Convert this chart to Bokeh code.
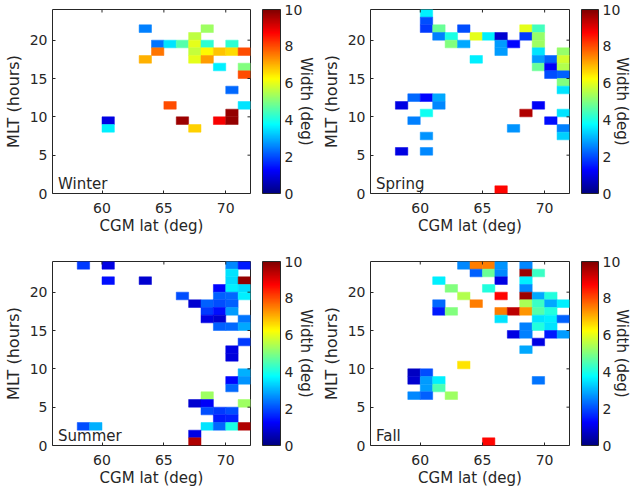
import numpy as np
from bokeh.plotting import figure
from bokeh.models import (FixedTicker, LinearColorMapper, Range1d,
                          ColumnDataSource)
from bokeh.core.properties import value
from bokeh.transform import linear_cmap, dodge
from bokeh.layouts import row, column
from bokeh.embed import file_html
from bokeh.resources import INLINE

# ---------------------------------------------------------------------------
# Width (deg) per 1-deg CGM latitude bin x 1-hour MLT bin, one set per season.
# lat / mlt give the lower edge of each bin.
# ---------------------------------------------------------------------------
winter_lat = [63, 68, 67, 64, 65, 66, 67, 68, 70, 64, 67, 68, 69, 70, 71, 63,
              67, 68, 69, 71, 71, 70, 65, 71, 70, 60, 66, 69, 70, 60, 67]
winter_mlt = [21, 21, 20, 19, 19, 19, 19, 19, 19, 18, 18, 18, 18, 18, 18, 17,
              17, 17, 16, 16, 15, 13, 11, 11, 10, 9, 9, 9, 9, 8, 8]
winter_width = [2.5, 5.3, 5.6, 2.4, 3.5, 4.6, 6.0, 4.2, 4.2, 7.6, 5.7, 6.3,
                6.8, 6.6, 8.0, 7.0, 6.0, 7.2, 3.6, 5.0, 8.0, 2.3, 8.0, 3.5,
                9.8, 1.0, 9.7, 8.8, 9.8, 3.6, 6.7]

spring_lat = [60, 60, 60, 61, 63, 68, 69, 61, 62, 64, 65, 66, 68, 69, 62, 63,
              66, 67, 69, 66, 69, 71, 64, 69, 70, 71, 69, 70, 71, 70, 71, 71,
              71, 59, 60, 61, 58, 61, 69, 60, 68, 71, 59, 70, 67, 71, 60, 71,
              58, 60, 66]
spring_mlt = [23, 22, 21, 21, 21, 21, 21, 20, 20, 20, 20, 20, 20, 20, 19, 19,
              19, 19, 19, 18, 18, 18, 17, 17, 17, 17, 16, 16, 16, 15, 15, 14,
              13, 12, 12, 12, 11, 11, 11, 10, 10, 10, 9, 9, 8, 8, 7, 7,
              5, 5, 0]
spring_width = [3.6, 2.0, 1.8, 4.8, 2.0, 6.0, 4.4, 2.5, 4.0, 6.0, 3.6, 0.8,
                1.8, 5.2, 5.0, 2.9, 2.8, 1.3, 5.3, 2.8, 3.5, 5.2, 3.6, 2.8,
                2.2, 5.8, 4.8, 1.2, 5.5, 2.0, 2.2, 5.0, 3.5, 2.3, 1.3, 2.9,
                1.0, 2.6, 1.2, 3.9, 9.5, 3.5, 2.5, 1.4, 2.7, 2.5, 2.7, 3.3,
                1.0, 2.6, 8.7]

summer_lat = [58, 60, 70, 71, 70, 60, 63, 70, 71, 69, 70, 71, 66, 69, 70, 71,
              67, 68, 69, 70, 68, 69, 70, 68, 69, 71, 69, 70, 71, 71, 70, 70,
              71, 70, 71, 70, 68, 67, 68, 71, 68, 69, 70, 69, 70, 58, 59, 68,
              69, 70, 71, 67, 67]
summer_mlt = [23, 23, 23, 23, 22, 21, 21, 21, 21, 20, 20, 20, 19, 19, 19, 19,
              18, 18, 18, 18, 17, 17, 17, 16, 16, 16, 15, 15, 15, 13, 12, 11,
              9, 8, 8, 7, 6, 5, 5, 5, 4, 4, 4, 3, 3, 2, 2, 2,
              2, 2, 2, 1, 0]
summer_width = [1.8, 1.0, 2.6, 1.5, 3.5, 1.4, 0.8, 3.4, 9.8, 1.3, 3.6, 3.4,
                2.0, 2.2, 2.3, 3.6, 0.8, 2.2, 2.0, 2.2, 1.8, 1.4, 2.8, 1.0,
                0.8, 2.4, 2.2, 2.3, 2.9, 1.8, 1.0, 0.9, 3.0, 1.3, 2.7, 2.3,
                5.3, 0.8, 1.2, 5.3, 2.0, 1.8, 2.0, 1.5, 1.6, 2.0, 3.0, 3.5,
                2.3, 4.0, 9.5, 1.0, 9.5]

fall_lat = [63, 64, 65, 66, 68, 64, 65, 66, 68, 69, 61, 66, 68, 62, 65, 68,
            63, 66, 68, 69, 70, 61, 64, 68, 69, 70, 71, 61, 62, 66, 67, 68,
            69, 70, 66, 69, 70, 71, 68, 69, 70, 67, 68, 70, 71, 69, 68, 63,
            59, 60, 59, 60, 61, 69, 60, 61, 59, 60, 62, 65]
fall_mlt = [23, 23, 23, 23, 23, 22, 22, 22, 22, 22, 21, 21, 21, 20, 20, 20,
            19, 19, 19, 19, 19, 18, 18, 18, 18, 18, 18, 17, 17, 17, 17, 17,
            17, 17, 16, 16, 16, 16, 15, 15, 15, 14, 14, 14, 14, 13, 12, 10,
            9, 9, 8, 8, 8, 8, 7, 7, 6, 6, 6, 0]
fall_width = [2.6, 7.5, 7.5, 2.7, 2.6, 2.2, 4.8, 2.6, 9.7, 4.3, 3.6, 1.0,
              3.6, 5.0, 4.1, 2.6, 5.5, 8.7, 9.7, 2.9, 4.1, 2.3, 7.5, 5.4,
              4.3, 2.9, 3.6, 1.5, 5.0, 7.5, 9.4, 7.3, 4.6, 4.1, 3.5, 3.5,
              3.6, 2.2, 2.5, 4.1, 3.5, 1.0, 2.5, 1.5, 2.8, 1.0, 2.9, 6.5,
              0.7, 2.0, 0.8, 2.8, 3.6, 2.4, 2.8, 4.5, 2.6, 2.2, 5.3, 8.7]

lat_limits = (56, 72)
mlt_limits = (0, 24)
width_limits = (0, 10)
lat_ticks = [60, 65, 70]
mlt_ticks = [0, 5, 10, 15, 20]
cbar_ticks = [0, 2, 4, 6, 8, 10]
cbar_title = "Width (deg)"

FONT = "DejaVu Sans"
INK = "#262626"


def jet(n=256):
    t = np.linspace(0.0, 1.0, n)
    r = np.clip(1.5 - np.abs(4 * t - 3), 0, 1)
    g = np.clip(1.5 - np.abs(4 * t - 2), 0, 1)
    b = np.clip(1.5 - np.abs(4 * t - 1), 0, 1)
    return ["#%02x%02x%02x" % (int(round(255 * rr)), int(round(255 * gg)),
                               int(round(255 * bb)))
            for rr, gg, bb in zip(r, g, b)]


JET = jet(256)


def style_axis(ax, ticks):
    ax.ticker = FixedTicker(ticks=ticks)
    ax.axis_line_color = None
    ax.major_tick_in = 3
    ax.major_tick_out = 0
    ax.minor_tick_in = 0
    ax.minor_tick_out = 0
    ax.major_tick_line_color = INK
    ax.major_label_text_font = FONT
    ax.major_label_text_color = INK
    ax.major_label_text_font_size = "14px"
    ax.axis_label_text_font = FONT
    ax.axis_label_text_font_size = "15px"
    ax.axis_label_text_font_style = "normal"
    ax.axis_label_text_color = INK


def season_panel(name, lat, mlt, wid, width, height, left, top, right, bottom):
    p = figure(width=width, height=height, output_backend="svg",
               toolbar_location=None, tools="",
               x_range=Range1d(*lat_limits), y_range=Range1d(*mlt_limits),
               min_border_left=left, min_border_right=right,
               min_border_top=top, min_border_bottom=bottom,
               x_axis_label="CGM lat (deg)", y_axis_label="MLT (hours)")
    p.xgrid.visible = False
    p.ygrid.visible = False
    p.outline_line_color = INK
    p.outline_line_width = 1
    p.outline_line_alpha = 1.0
    p.background_fill_color = "white"
    p.border_fill_color = "white"

    src = ColumnDataSource(dict(lat=lat, mlt=mlt, width=wid))
    cmap = linear_cmap("width", JET, *width_limits)
    p.rect(x=dodge("lat", 0.5), y=dodge("mlt", 0.5), width=1, height=1,
           source=src, fill_color=cmap, line_color=cmap, line_width=0.5)

    style_axis(p.xaxis[0], lat_ticks)
    p.xaxis[0].major_label_standoff = 9
    p.xaxis[0].axis_label_standoff = 1
    style_axis(p.yaxis[0], mlt_ticks)
    p.yaxis[0].major_label_standoff = 5
    p.yaxis[0].axis_label_standoff = 4
    p.yaxis[0].axis_label_text_font_size = "16px"

    # mirrored inward ticks on the top and right edges of the box
    p.scatter(x=lat_ticks, y=[mlt_limits[1]] * len(lat_ticks), marker="dash",
              angle=np.pi / 2, size=6, line_color=INK, line_width=1)
    p.scatter(x=[lat_limits[1]] * len(mlt_ticks), y=mlt_ticks, marker="dash",
              size=6, line_color=INK, line_width=1)

    # season name in the lower-left corner of the box
    p.text(x=[lat_limits[0]], y=[mlt_limits[0]], text=[name],
           x_offset=5.5, y_offset=-10, text_font=value(FONT),
           text_font_size="15px", text_color=INK,
           text_baseline="alphabetic", text_align="left")
    return p


def colorbar_panel(width, height, bar_left, bar_width, top, bottom,
                   title_offset):
    """Vertical colour scale. The whole canvas is the frame; the bar spans
    x in [0, 1] and y over width_limits, bar_left px from the left edge and
    with `top` / `bottom` px of space above and below it."""
    lo, hi = width_limits
    bar_height = height - top - bottom
    px_x = bar_width / 1.0
    px_y = bar_height / (hi - lo)
    p = figure(width=width, height=height, output_backend="svg",
               toolbar_location=None, tools="",
               x_range=Range1d(-bar_left / px_x, (width - bar_left) / px_x),
               y_range=Range1d(lo - bottom / px_y, hi + top / px_y),
               x_axis_location=None, y_axis_location=None,
               min_border_left=0, min_border_right=0,
               min_border_top=0, min_border_bottom=0)
    p.xgrid.visible = False
    p.ygrid.visible = False
    p.outline_line_color = None
    scale = np.linspace(lo, hi, 256).reshape(256, 1)
    mapper = LinearColorMapper(palette=JET, low=lo, high=hi)
    p.image(image=[scale], x=0, y=lo, dw=1, dh=hi - lo, color_mapper=mapper)
    p.quad(left=[0], right=[1], bottom=[lo], top=[hi], fill_color=None,
           line_color=INK, line_width=1)
    p.text(x=[1] * len(cbar_ticks), y=cbar_ticks,
           text=[str(t) for t in cbar_ticks], x_offset=4,
           text_font=value(FONT), text_font_size="14px", text_color=INK,
           text_baseline="middle", text_align="left")
    p.text(x=[1], y=[(lo + hi) / 2], text=[cbar_title], x_offset=title_offset,
           angle=-np.pi / 2, text_font=value(FONT), text_font_size="15px",
           text_color=INK, text_baseline="middle", text_align="center")
    # wrapped on its own so the row does not align its frame with the panels
    return column(p)


winter = season_panel("Winter", winter_lat, winter_mlt, winter_width,
                      258, 247, 52, 9, 8, 54)
winter_cb = colorbar_panel(57, 247, 4, 18, 9, 54, 25)
spring = season_panel("Spring", spring_lat, spring_mlt, spring_width,
                      261, 247, 55, 9, 7, 54)
spring_cb = colorbar_panel(54, 247, 5, 17, 9, 54, 23)

summer = season_panel("Summer", summer_lat, summer_mlt, summer_width,
                      258, 246, 52, 14, 8, 48)
summer_cb = colorbar_panel(57, 246, 4, 18, 14, 48, 25)
fall = season_panel("Fall", fall_lat, fall_mlt, fall_width,
                    261, 246, 55, 14, 7, 48)
fall_cb = colorbar_panel(54, 246, 5, 17, 14, 48, 23)

layout = column(row(winter, winter_cb, spring, spring_cb),
                row(summer, summer_cb, fall, fall_cb))

with open("out.html", "w") as f:
    f.write(file_html(layout, INLINE))
